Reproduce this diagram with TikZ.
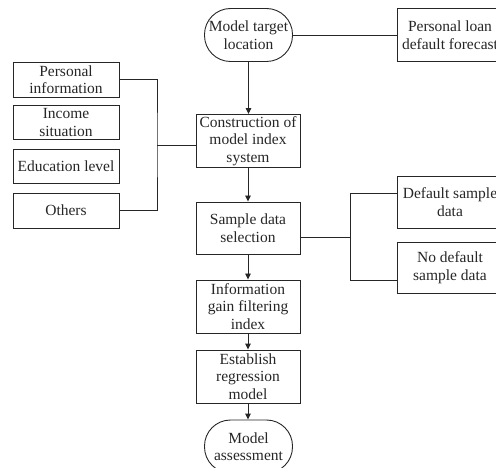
\documentclass[tikz,border=0pt]{standalone}
\usepackage{fontspec}
\setmainfont{Liberation Serif}
\usetikzlibrary{arrows.meta}
\definecolor{ink}{HTML}{262626}
\begin{document}
\begin{tikzpicture}[x=1pt,y=-1pt,
  base/.style={draw=ink,line width=0.9pt,text=ink,inner sep=0pt,align=center,
    font=\fontsize{15.5}{17.5}\selectfont},
  box/.style={base,rectangle,minimum width=104pt,minimum height=53pt},
  sidebox/.style={base,rectangle,minimum width=106pt},
  term/.style={base,rectangle,rounded corners=26pt,minimum width=88pt,minimum height=53pt},
  link/.style={draw=ink,line width=0.9pt},
  arr/.style={link,-{Triangle[length=6pt,width=5.5pt]}}]
\useasboundingbox (0,0) rectangle (496,468);
% main column
\node[term] (mt) at (248.5,35) {Model target\\location};
\node[sidebox,minimum height=53pt] (loan) at (450,35) {Personal loan\\default forecast};
\node[box] (con) at (248,141) {Construction of\\model index\\system};
\node[box,minimum height=52pt] (sam) at (248,228) {Sample data\\selection};
\node[box] (info) at (248,306.5) {Information\\gain filtering\\index};
\node[box] (est) at (248,376.5) {Establish\\regression\\model};
\node[term] (ass) at (248.5,446.5) {Model\\assessment};
% left column
\node[sidebox,minimum height=35pt] (pi) at (66,79.5) {Personal\\information};
\node[sidebox,minimum height=34pt] (inc) at (66,122.5) {Income\\situation};
\node[sidebox,minimum height=34pt] (edu) at (66,166) {Education level};
\node[sidebox,minimum height=35pt] (oth) at (66,210.5) {Others};
% right column
\node[sidebox,minimum height=52pt] (def) at (450,202) {Default sample\\data};
\node[sidebox,minimum height=51pt] (nodef) at (450,267.5) {No default\\sample data};
% connector coordinates
\coordinate (lm) at (157,145);
\coordinate (rm) at (350,237);
\coordinate (rt) at (350,193);
\coordinate (rb) at (350,280);
% connectors
\draw[link] (mt.east) -- (loan.west);
\draw[arr] (mt.south) -- (mt.south |- con.north);
\draw[arr] (con.south) -- (sam.north);
\draw[arr] (sam.south) -- (info.north);
\draw[arr] (info.south) -- (est.north);
\draw[arr] (est.south) -- (est.south |- ass.north);
\draw[link] (pi.east) -| (lm) |- (oth.east);
\draw[link] (lm) -- (lm -| con.west);
\draw[link] (sam.east |- rm) -- (rm);
\draw[link] (rt -| def.west) -- (rt) -- (rb) -- (rb -| nodef.west);
\end{tikzpicture}
\end{document}
